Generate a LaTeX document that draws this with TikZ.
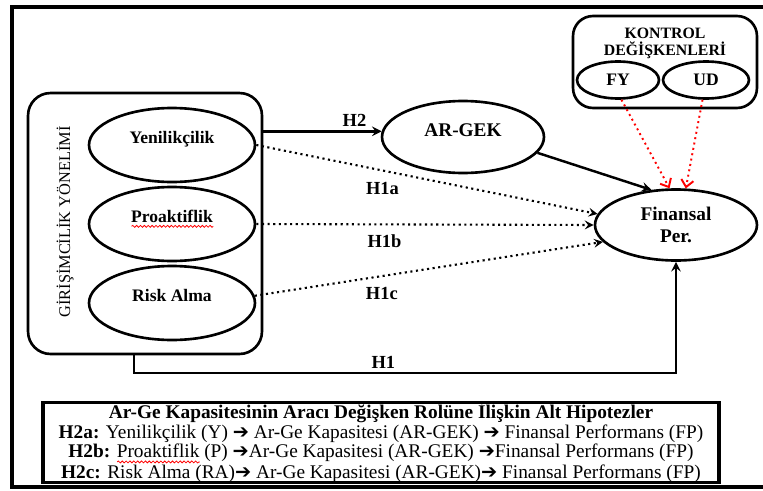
\documentclass[tikz,border=0pt]{standalone}
\usepackage{fontspec}
\setmainfont{Liberation Serif}
\newfontfamily\arrowfont{DejaVu Sans}
\usetikzlibrary{positioning,shapes.geometric,arrows,arrows.meta,decorations.pathmorphing}
\tikzset{
	>=stealth, % arrow heads of the paths
	x=0.02cm, y=-0.02cm, % one unit is one pixel of the sketch, y grows downwards
}
% red wavy line under a word, as the spell checker left it
\newcommand\spellwave[1]{\setbox0\hbox{#1}\rlap{\tikz[baseline=0pt, x=1pt, y=1pt]\draw[red, line width=0.45pt, decorate, decoration={snake, amplitude=0.55pt, segment length=2.2pt}] (0,-2.3) -- (\the\wd0,-2.3);}#1}
\newcommand\hyparrow{{\arrowfont ➔}}

\begin{document}
\begin{tikzpicture}[
	factor/.style={ellipse, draw, line width=1.5pt, minimum width=3.32cm, minimum height=1.48cm, font=\bfseries\fontsize{10}{11}\selectfont, text depth=9pt},
	outcome/.style={ellipse, draw, line width=1.5pt, minimum width=3.24cm, minimum height=1.44cm, inner sep=1pt, align=center, font=\bfseries\fontsize{11}{12.5}\selectfont},
	control/.style={ellipse, draw, line width=1.5pt, minimum height=0.74cm, font=\bfseries\fontsize{10}{11}\selectfont},
	groupbox/.style={rectangle, draw, line width=1.5pt, rounded corners=0.45cm},
	solidedge/.style={->, line width=1.4pt},
	dottededge/.style={->, line width=1.2pt, dotted},
	controledge/.style={-{Straight Barb[length=4pt,width=7pt]}, red, line width=1.1pt, dotted},
	hyp/.style={font=\bfseries\fontsize{10.5}{12}\selectfont, inner sep=1pt},
	]
	\useasboundingbox (0,0) rectangle (763,490);
	\draw[line width=2.6pt] (12,7) rectangle (775,487);

	%Nodes
	\node[groupbox, minimum width=4.68cm, minimum height=5.22cm] (gy) at (145,223.5) {};
	\node[rotate=90, font=\fontsize{9.3}{11}\selectfont] (gylabel) at (65,222) {GİRİŞİMCİLİK YÖNELİMİ};
	\node[factor] (yen)  at (172,145) {Yenilikçilik};
	\node[factor] (pro)  at (172,224) {\spellwave{Proaktiflik}};
	\node[factor] (risk) at (172,303) {Risk Alma};

	\node[outcome, text depth=8pt] (arge) at (463,137) {AR-GEK};
	\node[outcome, minimum height=1.42cm] (fin) at (676,225) {Finansal\\Per.};

	\node[groupbox, rounded corners=0.4cm, minimum width=3.68cm, minimum height=1.84cm] (ctrlbox) at (665,62) {};
	\node[font=\bfseries\fontsize{9}{9.7}\selectfont, align=center] (ctrltitle) at (665,43) {KONTROL\\DEĞİŞKENLERİ};
	\node[control, minimum width=1.64cm] (fy) at (618,80) {FY};
	\node[control, minimum width=1.72cm] (ud) at (706,80) {UD};

	\node[draw, line width=1.8pt, minimum width=13.52cm, minimum height=1.46cm, inner sep=0pt, align=center, font=\fontsize{11}{9.7}\selectfont] (subhyp) at (381,442.5)
	{\textbf{Ar-Ge Kapasitesinin Aracı Değişken Rolüne İlişkin Alt Hipotezler}\\
	\textbf{H2a:} Yenilikçilik (Y) \hyparrow{} Ar-Ge Kapasitesi (AR-GEK) \hyparrow{} Finansal Performans (FP)\\
	\textbf{H2b:} \spellwave{Proaktiflik} (P) \hyparrow{}Ar-Ge Kapasitesi (AR-GEK) \hyparrow{}Finansal Performans (FP)\\
	\textbf{H2c:} Risk Alma (RA)\hyparrow{} Ar-Ge Kapasitesi (AR-GEK)\hyparrow{} Finansal Performans (FP)};

	%Lines
	\coordinate (h1corner) at (134,373);
	\draw[solidedge] (gy.east |- arge.176) -- (arge.176) node[hyp, pos=0.77, above=1pt] {H2};
	\draw[solidedge] (arge.-12) -- (fin.125);
	\draw[dottededge] (yen.east) -- (fin.172) node[hyp, pos=0.37, below=5pt] {H1a};
	\draw[dottededge] (pro.east) -- (fin.west) node[hyp, pos=0.38, below=4pt] {H1b};
	\draw[dottededge] (risk.5) -- (fin.193) node[hyp, pos=0.365, below=5pt] {H1c};
	\draw[solidedge] (gy.south -| h1corner) -- (h1corner) -| (fin.south) node[hyp, pos=0.23, above=1pt] {H1};
	\draw[controledge] (fy.-80) -- (fin.100);
	\draw[controledge] (ud.-100) -- (fin.75);
\end{tikzpicture}
\end{document}
